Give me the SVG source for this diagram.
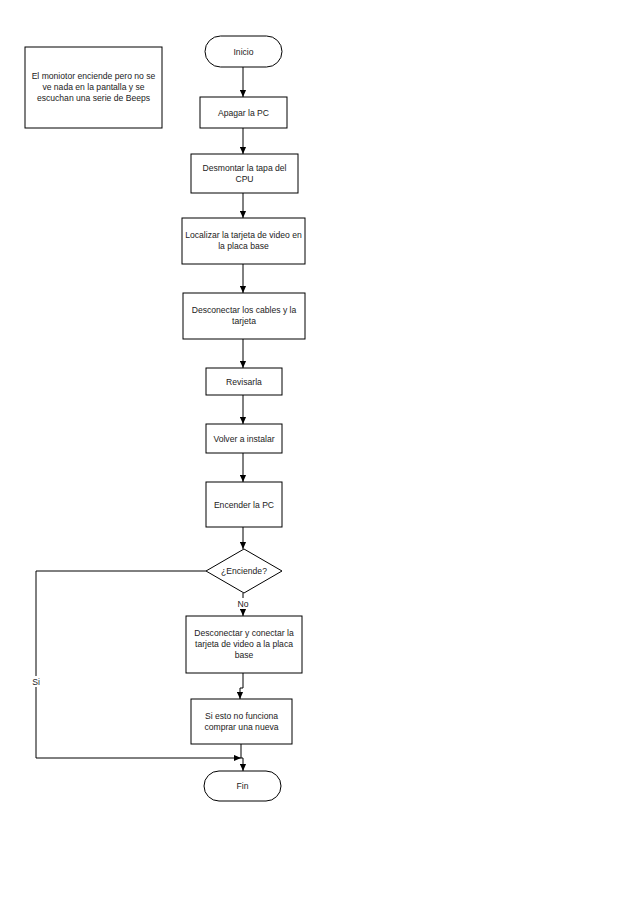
<svg xmlns="http://www.w3.org/2000/svg" width="638" height="903" viewBox="0 0 638 903">
<style>
.n{fill:#fff;stroke:#000;stroke-width:1}
.t{font-family:"Liberation Sans",Arial,sans-serif;font-size:8.6px;fill:#222;text-anchor:middle}
.c{fill:none;stroke:#000;stroke-width:1}
</style>
<defs>
<marker id="a" viewBox="0 0 8 8" refX="8" refY="4" markerWidth="7" markerHeight="7" markerUnits="userSpaceOnUse" orient="auto"><path d="M0,0.5 L8,4 L0,7.5 z" fill="#000"/></marker>
</defs>
<rect width="638" height="903" fill="#fff"/>
<g id="connectors">
<path class="c" d="M243,67 V97" marker-end="url(#a)"/>
<path class="c" d="M243,128 V154" marker-end="url(#a)"/>
<path class="c" d="M243,193 V218" marker-end="url(#a)"/>
<path class="c" d="M243,264 V293" marker-end="url(#a)"/>
<path class="c" d="M243,339 V368" marker-end="url(#a)"/>
<path class="c" d="M243,395 V424" marker-end="url(#a)"/>
<path class="c" d="M243,453 V482" marker-end="url(#a)"/>
<path class="c" d="M243,527 V549" marker-end="url(#a)"/>
<path class="c" d="M243,593 V616" marker-end="url(#a)"/>
<path class="c" d="M243,673 V688 H240 V699" marker-end="url(#a)"/>
<path class="c" d="M241,744 V758 H243 V771" marker-end="url(#a)"/>
<path class="c" d="M206,571 H36 V758 H241" marker-end="url(#a)"/>
<rect x="236" y="598" width="14" height="11" fill="#fff"/>
<text class="t" x="243" y="607">No</text>
<rect x="31" y="676" width="11" height="11" fill="#fff"/>
<text class="t" x="36" y="685">Si</text>
</g>
<g id="nota">
<rect class="n" x="25" y="47" width="137" height="81"/>
<text class="t" x="93.5" y="79">El moniotor enciende pero no se</text>
<text class="t" x="93.5" y="90">ve nada en la pantalla y se</text>
<text class="t" x="93.5" y="101">escuchan una serie de Beeps</text>
</g>
<g id="inicio">
<rect class="n" x="205" y="36" width="77" height="31" rx="15.5"/>
<text class="t" x="243.5" y="54.5">Inicio</text>
</g>
<g id="apagar">
<rect class="n" x="200" y="97" width="87" height="31"/>
<text class="t" x="243.5" y="115.5">Apagar la PC</text>
</g>
<g id="desmontar">
<rect class="n" x="191" y="154" width="107" height="39"/>
<text class="t" x="244.5" y="171">Desmontar la tapa del</text>
<text class="t" x="244.5" y="182">CPU</text>
</g>
<g id="localizar">
<rect class="n" x="182" y="218" width="123" height="46"/>
<text class="t" x="243.5" y="238">Localizar la tarjeta de video en</text>
<text class="t" x="243.5" y="249">la placa base</text>
</g>
<g id="desconectar">
<rect class="n" x="183" y="293" width="122" height="46"/>
<text class="t" x="244" y="313">Desconectar los cables y la</text>
<text class="t" x="244" y="324">tarjeta</text>
</g>
<g id="revisarla">
<rect class="n" x="206" y="368" width="76" height="27"/>
<text class="t" x="244" y="384.5">Revisarla</text>
</g>
<g id="volver">
<rect class="n" x="206" y="424" width="76" height="29"/>
<text class="t" x="244" y="441.5">Volver a instalar</text>
</g>
<g id="encender">
<rect class="n" x="206" y="482" width="76" height="45"/>
<text class="t" x="244" y="507.5">Encender la PC</text>
</g>
<g id="decision">
<path class="n" d="M244,549 L282,571 L244,593 L206,571 Z"/>
<text class="t" x="244" y="574">¿Enciende?</text>
</g>
<g id="reconectar">
<rect class="n" x="186" y="616" width="116" height="57"/>
<text class="t" x="244" y="636">Desconectar y conectar la</text>
<text class="t" x="244" y="647">tarjeta de video a la placa</text>
<text class="t" x="244" y="658">base</text>
</g>
<g id="comprar">
<rect class="n" x="191" y="699" width="101" height="45"/>
<text class="t" x="241.5" y="719">Si esto no funciona</text>
<text class="t" x="241.5" y="730">comprar una nueva</text>
</g>
<g id="fin">
<rect class="n" x="204" y="771" width="77" height="30" rx="15"/>
<text class="t" x="242.5" y="789">Fin</text>
</g>
</svg>
